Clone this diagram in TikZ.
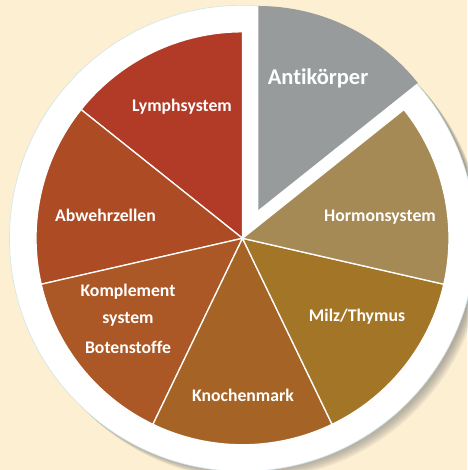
\documentclass[tikz,border=0pt]{standalone}
\usepackage{fontspec}
\setmainfont{Carlito}[Ligatures=NoCommon]
\usetikzlibrary{calc}
\begin{document}
\begin{tikzpicture}[x=1pt,y=1pt,
  lbl/.style={anchor=base,text=white,font=\bfseries\fontsize{17.7}{20}\selectfont,inner sep=0pt},
  biglbl/.style={lbl,font=\bfseries\fontsize{22.5}{26}\selectfont},
  sep/.style={draw=white,line width=1.3pt,line join=round}]
\definecolor{bg}{HTML}{FDEFD2}
\definecolor{cLymph}{HTML}{B13B26}
\definecolor{cAbw}{HTML}{AD4B24}
\definecolor{cKomp}{HTML}{AC5726}
\definecolor{cKno}{HTML}{A56425}
\definecolor{cMilz}{HTML}{A37527}
\definecolor{cHorm}{HTML}{A58A55}
\definecolor{cAnti}{HTML}{989B9B}
\definecolor{shade}{HTML}{6E5E45}
\definecolor{rim}{HTML}{CFE6EA}
\useasboundingbox (0,0) rectangle (467,470);
\fill[bg] (0,0) rectangle (467,470);
\coordinate (C) at (242.5,231.7);
\coordinate (G) at (258.3,260);
% shadow
\foreach \k in {0,...,7}{
  \fill[shade,opacity=0.04] ($(C)+(2+\k*0.9,-2-\k*0.9)$) circle[radius=233];
}
\fill[white,draw=rim,line width=0.6pt] (C) circle[radius=233];
% pie slices
\def\R{206.5}
\filldraw[fill=cLymph,sep] (C) -- ++(90:\R) arc[start angle=90,end angle=141.43,radius=\R] -- cycle;
\filldraw[fill=cAbw,sep] (C) -- ++(141.43:\R) arc[start angle=141.43,end angle=192.86,radius=\R] -- cycle;
\filldraw[fill=cKomp,sep] (C) -- ++(192.86:\R) arc[start angle=192.86,end angle=244.29,radius=\R] -- cycle;
\filldraw[fill=cKno,sep] (C) -- ++(244.29:\R) arc[start angle=244.29,end angle=295.71,radius=\R] -- cycle;
\filldraw[fill=cMilz,sep] (C) -- ++(295.71:\R) arc[start angle=295.71,end angle=347.14,radius=\R] -- cycle;
\filldraw[fill=cHorm,sep] (C) -- ++(347.14:\R) arc[start angle=347.14,end angle=398.57,radius=\R] -- cycle;
\fill[cAnti] (G) -- ++(38.57:204) arc[start angle=38.57,end angle=90,radius=204] -- cycle;
% labels
\node[biglbl] (anti) at (318,385.5) {Antikörper};
\node[lbl] (lymph) at (182,358.3) {Lymphsystem};
\node[lbl] (abw) at (105.5,248.3) {Abwehrzellen};
\node[lbl] (horm) at (380,248.3) {Hormonsystem};
\node[lbl] (milz) at (357,148.3) {Milz/Thymus};
\node[lbl] (kno) at (243,68.3) {Knochenmark};
\node[lbl] (komp1) at (128,173.3) {Komplement};
\node[lbl] (komp2) at (128,146.7) {system};
\node[lbl] (komp3) at (128,116.7) {Botenstoffe};
\end{tikzpicture}
\end{document}
